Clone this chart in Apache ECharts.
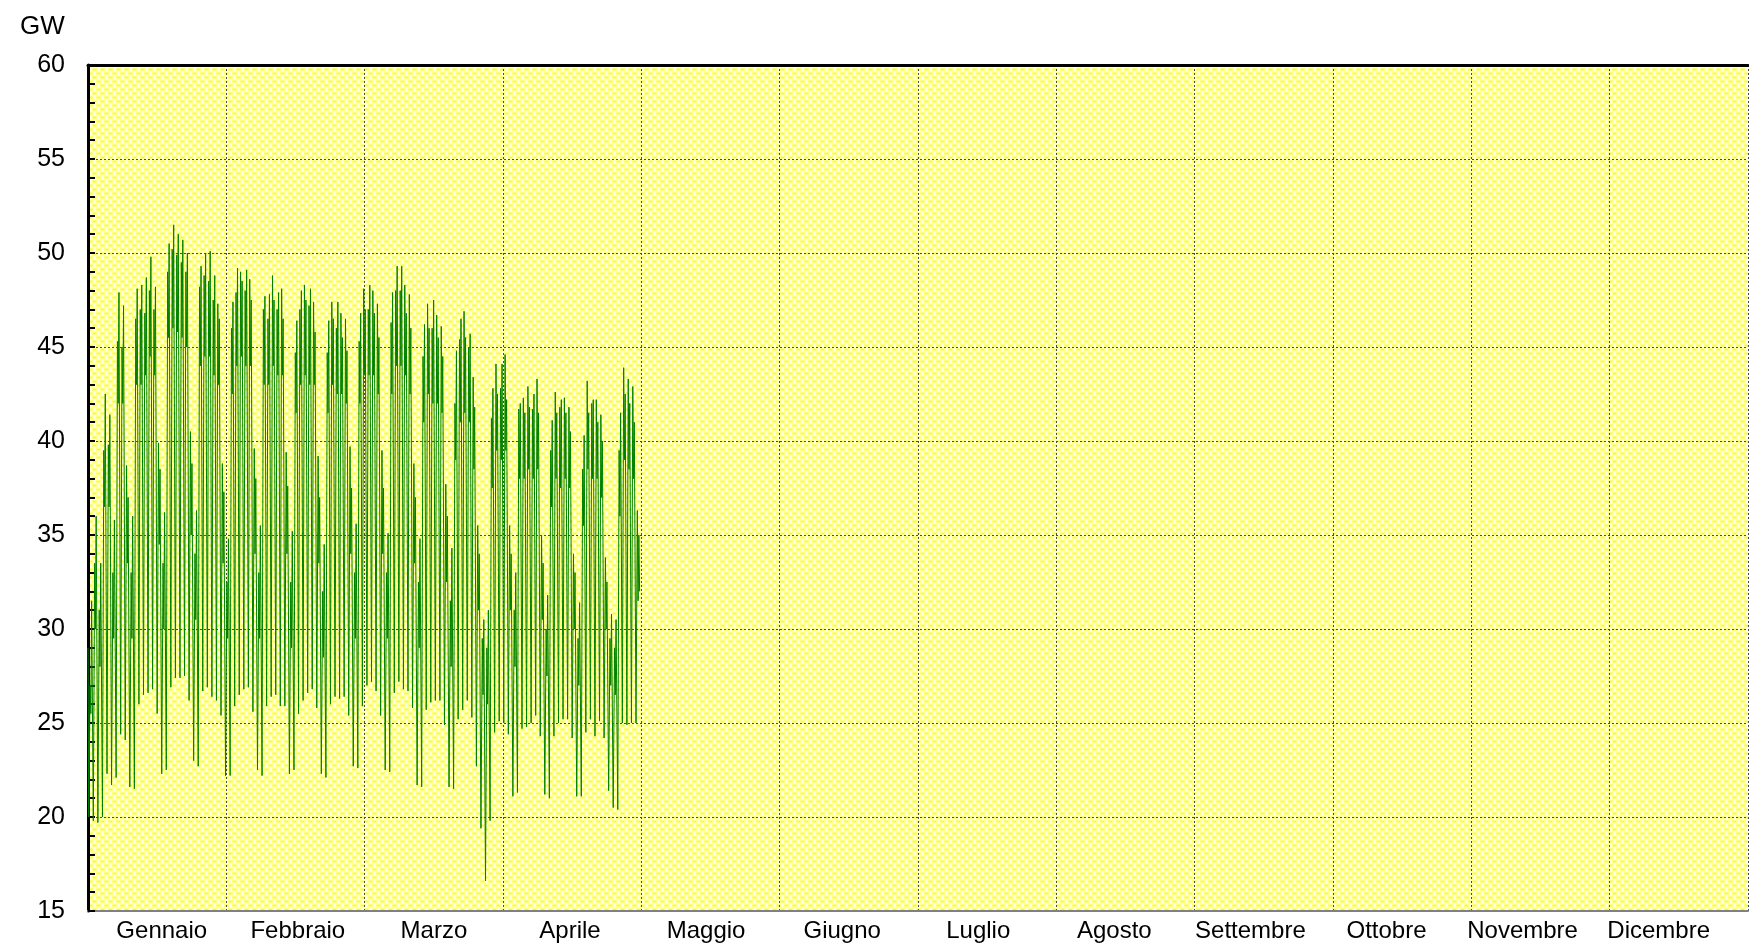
<!DOCTYPE html>
<html>
<head>
<meta charset="utf-8">
<script src="https://cdn.jsdelivr.net/npm/echarts@6/dist/echarts.min.js"></script>
<style>
html,body{margin:0;padding:0;background:#fff;}
#chart{width:1749px;height:944px;}
</style>
</head>
<body>
<div id="chart"></div>
<script>
// ---- data (Italian hourly load, Jan 1 - Apr 30, GW) ----
const monthNames = ['Gennaio','Febbraio','Marzo','Aprile','Maggio','Giugno','Luglio','Agosto','Settembre','Ottobre','Novembre','Dicembre'];
const yUnit = 'GW';
// hours of the day at which each daily value is read
const sampleHours = [4, 11, 15, 19];
const startValue = 29.0;   // Jan 1, 00:00
const endValue = 32.0;     // Apr 30, 23:00
// night minimum (~04:00)
const dayMin = [
 20.0,19.8,19.7,20.0,22.3,21.7,22.1,24.4,24.1,21.6,21.5,26.0,26.5,26.6,26.8,25.5,22.3,22.5,26.9,27.4,27.4,27.5,26.2,23.0,22.7,26.7,26.9,26.4,26.2,25.4,22.2,
 22.2,25.9,26.5,26.8,26.9,25.6,22.5,22.2,25.9,26.4,26.5,25.9,25.9,22.3,22.5,25.5,26.2,26.6,26.8,25.8,22.3,22.1,26.0,26.4,26.3,26.4,25.4,22.7,22.6,
 25.9,27.0,27.2,26.7,25.4,22.5,22.4,26.6,27.2,26.8,26.7,25.8,21.7,21.6,25.7,26.1,26.2,26.2,24.9,21.6,21.5,25.2,25.7,26.2,25.3,22.7,19.4,16.6,19.8,24.5,25.1,
 25.0,24.4,21.1,21.3,24.7,24.8,25.0,25.4,24.3,21.2,21.0,24.3,25.0,25.2,25.2,24.2,21.1,21.1,24.5,25.2,24.3,25.1,24.2,21.4,20.5,20.4,25.0,24.9,25.0,25.0
];
// morning peak (~11:00)
const dayPeakAM = [
 27.0,33.5,31.0,39.5,39.8,33.0,45.3,45.0,38.7,33.0,46.5,47.0,46.8,48.0,47.0,39.9,33.5,49.0,50.2,49.9,49.5,49.0,40.5,34.0,48.2,48.8,48.5,47.5,47.3,38.8,32.5,
 46.0,47.9,49.0,48.0,48.6,39.6,33.0,47.0,46.5,48.8,47.0,48.1,39.4,32.5,44.7,47.0,48.3,47.2,47.4,39.2,32.0,44.7,47.4,46.0,46.8,46.5,39.7,33.0,45.3,
 48.1,47.0,48.0,47.3,39.5,33.0,46.3,48.0,48.0,48.3,47.8,38.8,32.5,44.5,47.3,46.0,46.7,46.1,37.7,31.5,42.0,45.4,46.9,45.0,43.4,35.5,29.5,29.0,41.2,44.1,42.8,
 44.6,35.5,31.0,41.7,42.3,42.9,41.7,43.3,35.0,30.0,39.5,42.6,41.8,42.3,41.8,34.0,29.5,38.5,43.2,42.0,42.2,41.4,33.8,29.5,29.0,39.5,43.9,43.3,42.9,36.3
];
// afternoon dip (~15:00)
const dayDip = [
 25.5,30.0,28.0,36.5,36.5,29.5,42.0,42.0,33.5,29.5,43.0,43.0,43.5,44.5,43.5,34.5,30.0,45.5,46.0,45.8,45.5,45.0,35.0,30.5,44.0,44.5,44.5,43.5,43.0,33.5,29.5,
 42.5,44.0,44.5,44.0,44.0,34.0,29.5,43.0,43.0,44.0,43.5,43.5,34.0,29.0,41.5,43.0,43.5,43.0,43.0,33.5,28.5,41.5,43.0,42.5,42.5,42.0,34.0,29.5,42.0,
 43.5,43.5,43.5,42.5,34.0,29.5,42.5,44.0,44.0,43.5,42.5,33.5,29.0,41.0,42.5,42.0,42.0,41.5,32.5,28.0,39.0,41.0,41.5,41.0,38.5,31.0,26.5,26.0,37.5,39.5,39.0,
 39.5,31.0,28.0,38.0,38.0,38.5,38.0,38.5,30.5,27.5,36.5,38.0,37.5,38.0,37.5,30.0,27.0,35.5,38.5,38.0,38.0,37.0,30.0,27.0,26.5,36.0,39.0,38.5,38.0,31.5
];
// evening peak (~19:00)
const dayPeakPM = [
 31.5,36.0,33.5,42.5,41.4,35.8,47.9,47.2,37.0,36.0,48.1,48.3,48.7,49.8,48.2,38.5,36.2,50.5,51.5,51.0,50.7,50.0,38.8,36.3,49.3,50.0,50.1,48.8,46.5,37.3,34.8,
 47.4,49.2,48.5,49.1,47.5,38.0,35.5,47.7,47.8,47.5,47.9,46.5,37.6,35.2,46.4,48.0,47.5,48.1,45.8,37.0,34.5,46.4,46.5,47.4,45.5,44.8,37.5,35.6,46.8,
 47.0,48.3,46.8,45.5,37.5,35.1,47.9,49.3,49.3,46.8,46.0,37.0,34.8,46.2,46.0,47.5,45.5,44.5,36.0,34.3,44.8,46.5,45.5,45.7,41.8,34.0,30.5,31.0,42.8,42.5,44.1,
 42.2,34.0,33.0,42.0,41.5,41.8,42.5,41.5,33.5,31.8,41.1,41.5,42.2,41.5,40.5,33.0,31.4,40.3,41.5,42.2,41.0,40.0,32.5,30.8,30.5,41.5,42.5,42.0,41.0,35.0
];

// ---- build series from the arrays ----
const loadData = [[0, startValue]];
for (let d = 0; d < dayMin.length; d++) {
  const vals = [dayMin[d], dayPeakAM[d], dayDip[d], dayPeakPM[d]];
  for (let k = 0; k < sampleHours.length; k++) {
    loadData.push([d + sampleHours[k] / 24, vals[k]]);
  }
}
loadData.push([dayMin.length - 1 / 24, endValue]);

// dotted yellow fill pattern for the plot area
const pc = document.createElement('canvas');
pc.width = 8; pc.height = 8;
const g = pc.getContext('2d');
g.fillStyle = '#ffffe6'; g.fillRect(0, 0, 8, 8);
g.fillStyle = '#ffff80';
g.fillRect(0, 0, 5, 3); g.fillRect(4, 4, 4, 3); g.fillRect(0, 4, 1, 3);
g.fillStyle = '#ffff00';
g.fillRect(1, 1, 3, 1); g.fillRect(5, 5, 3, 1);

const FONT = 'Arial, "Liberation Sans", sans-serif';
const gridLine = { show: true, lineStyle: { color: '#4a4a4a', width: 1, type: [2, 2] } };

const chart = echarts.init(document.getElementById('chart'), null, { renderer: 'canvas' });
chart.setOption({
  animation: false,
  backgroundColor: '#ffffff',
  title: {
    text: yUnit, left: 15, top: 9,
    textStyle: { fontFamily: FONT, fontSize: 26, fontWeight: 'normal', color: '#000' }
  },
  grid: [
    {
      left: 88, top: 65, width: 1660, height: 846,
      show: true, borderWidth: 0,
      backgroundColor: { image: pc, repeat: 'repeat' }
    },
    // label-only grid: month names sit on a slightly narrower spacing than the month bands
    { left: 93.7, top: 65, width: 1633, height: 846, show: false }
  ],
  xAxis: [
    {
      type: 'category', data: monthNames, position: 'bottom', boundaryGap: true, gridIndex: 0,
      axisLine: { show: true, lineStyle: { color: '#808080', width: 2 } },
      axisTick: { show: false },
      axisLabel: { show: false },
      splitLine: Object.assign({ interval: 0 }, gridLine)
    },
    {
      type: 'value', min: 0, max: 364, position: 'top', gridIndex: 0,
      axisLine: { show: true, lineStyle: { color: '#000', width: 3 } },
      axisTick: { show: false }, axisLabel: { show: false }, splitLine: { show: false }
    },
    {
      type: 'category', data: monthNames, position: 'bottom', boundaryGap: true, gridIndex: 1,
      axisLine: { show: false }, axisTick: { show: false }, splitLine: { show: false },
      axisLabel: { interval: 0, margin: 8, fontFamily: FONT, fontSize: 24, color: '#000' }
    }
  ],
  yAxis: [
    {
      type: 'value', min: 15, max: 60, interval: 5, gridIndex: 0,
      axisLine: { show: true, lineStyle: { color: '#000', width: 3 } },
      axisTick: { show: true, inside: true, length: 7, lineStyle: { color: '#000', width: 2 } },
      minorTick: { show: true, splitNumber: 5, length: 7, lineStyle: { color: '#000', width: 2 } },
      axisLabel: { margin: 23, fontFamily: FONT, fontSize: 25, color: '#000' },
      splitLine: gridLine
    },
    {
      type: 'value', min: 15, max: 60, gridIndex: 1, show: false
    }
  ],
  series: [{
    type: 'line', xAxisIndex: 1, yAxisIndex: 0, data: loadData,
    showSymbol: false, symbol: 'none',
    lineStyle: { color: '#008000', width: 1 },
    z: 3
  }]
});
</script>
</body>
</html>
